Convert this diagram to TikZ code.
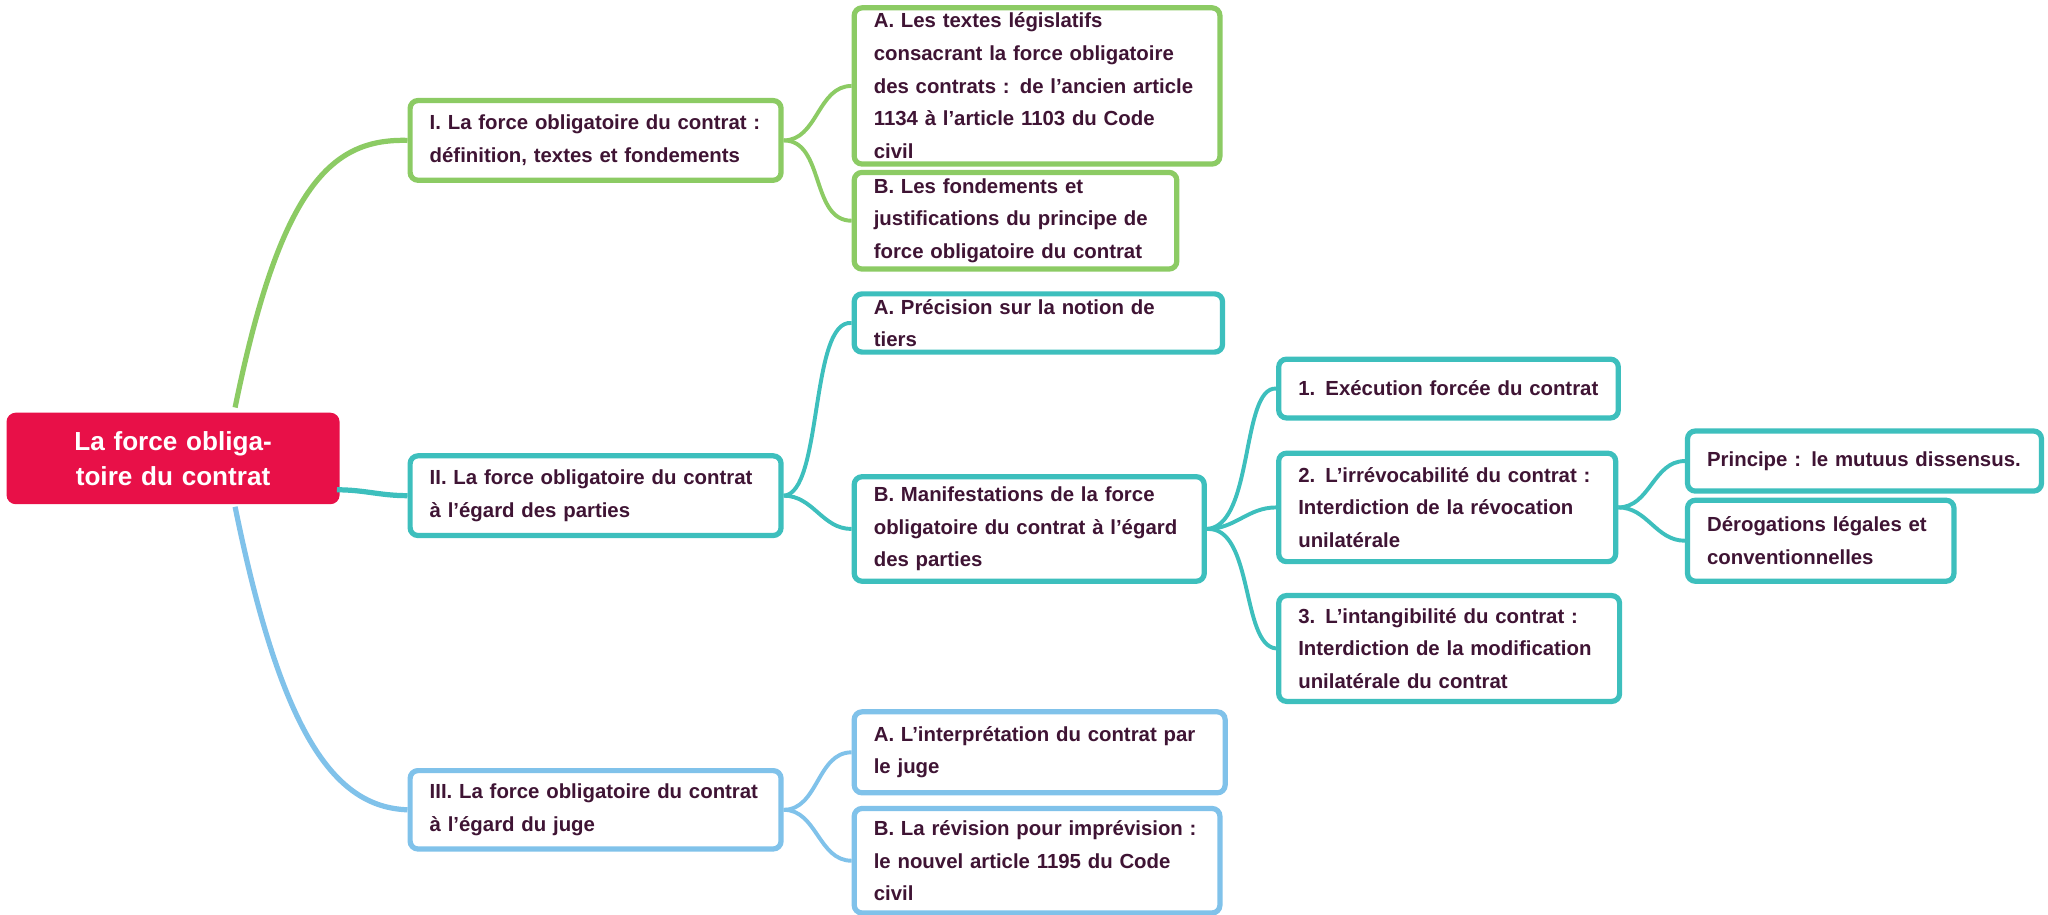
\documentclass[tikz,border=0pt]{standalone}
\usepackage{fontspec}
\setmainfont{Liberation Sans}
\definecolor{txt}{HTML}{3F1434}
\definecolor{gr}{HTML}{8CCB64}
\definecolor{te}{HTML}{3DBFBD}
\definecolor{bl}{HTML}{80C2EA}
\definecolor{rd}{HTML}{E81048}
\begin{document}
\begin{tikzpicture}[x=1pt,y=-1pt,
  bx/.style={draw=#1,line width=4pt,rounded corners=6pt,fill=white,anchor=north west,
    inner xsep=15pt,inner ysep=4pt,align=left,text=txt,
    font=\fontsize{15.6}{25}\selectfont\bfseries},
  cn/.style={draw=#1,line width=3pt},
  wd/.style={text width=#1-34pt},
  ht/.style={minimum height=#1}]
\useasboundingbox (0,0) rectangle (1568,700);
\node[draw=rd,fill=rd,line width=2pt,rounded corners=6pt,anchor=north west,minimum width=253,minimum height=68,
  text width=225pt,align=center,text=white,font=\fontsize{20}{27}\selectfont\bfseries] (root) at (5,316)
  {La force obligatoire du contrat};
\coordinate (rg) at (180,312);
\coordinate (rb) at (180,388);
\coordinate (rt) at (258,375);
\node[bx=gr,wd=288pt,ht=61pt] (I) at (312,75) {I. La force obligatoire du contrat :\\définition, textes et fondements};
\node[bx=gr,wd=284pt,ht=116pt] (IA) at (652,4) {A. Les textes législatifs\\consacrant la force obligatoire\\des contrats : de l’ancien article\\1134 à l’article 1103 du Code\\civil};
\node[bx=gr,wd=251pt,ht=74pt] (IB) at (652,130) {B. Les fondements et\\justifications du principe de\\force obligatoire du contrat};
\node[bx=te,wd=288pt,ht=61pt] (II) at (312,347) {II. La force obligatoire du contrat\\à l’égard des parties};
\node[bx=te,wd=286pt,ht=41pt] (IIA) at (652,223) {A. Précision sur la notion de tiers};
\node[bx=te,wd=272pt,ht=80pt] (IIB) at (652,363) {B. Manifestations de la force\\obligatoire du contrat à l’égard\\des parties};
\node[bx=te,wd=264pt,ht=45pt] (B1) at (977,273) {1. Exécution forcée du contrat};
\node[bx=te,wd=262pt,ht=83pt] (B2) at (977,345) {2. L’irrévocabilité du contrat :\\Interdiction de la révocation\\unilatérale};
\node[bx=te,wd=265pt,ht=81pt] (B3) at (977,454) {3. L’intangibilité du contrat :\\Interdiction de la modification\\unilatérale du contrat};
\node[bx=te,wd=275pt,ht=46pt] (P1) at (1290,328) {Principe : le mutuus dissensus.};
\node[bx=te,wd=208pt,ht=62pt] (P2) at (1290,381) {Dérogations légales et\\conventionnelles};
\node[bx=bl,wd=288pt,ht=60pt] (III) at (312,588) {III. La force obligatoire du contrat\\à l’égard du juge};
\node[bx=bl,wd=288pt,ht=62pt] (IIIA) at (652,543) {A. L’interprétation du contrat par\\le juge};
\node[bx=bl,wd=284pt,ht=80pt] (IIIB) at (652,617) {B. La révision pour imprévision :\\le nouvel article 1195 du Code\\civil};
\begin{scope}[on background layer/.style={}]
\end{scope}
\draw[cn=gr,line width=4pt] (rg) .. controls (215,140) and (255,106) .. (I.west);
\draw[cn=bl,line width=4pt] (rb) .. controls (215,560) and (255,618) .. (III.west);
\draw[cn=te,line width=4pt] (rt) to[out=0,in=180] (II.west);
\draw[cn=gr] (I.east) to[out=0,in=180] (IA.west);
\draw[cn=gr] (I.east) to[out=0,in=180] (IB.west);
\draw[cn=te] (II.east) .. controls (630,378) and (620,244) .. (IIA.west);
\draw[cn=te] (II.east) to[out=0,in=180] (IIB.west);
\draw[cn=te] (IIB.east) .. controls (960,403) and (950,296) .. (B1.west);
\draw[cn=te] (IIB.east) to[out=0,in=180] (B2.west);
\draw[cn=te] (IIB.east) .. controls (960,403) and (950,494) .. (B3.west);
\draw[cn=te] (B2.east) to[out=0,in=180] (P1.west);
\draw[cn=te] (B2.east) to[out=0,in=180] (P2.west);
\draw[cn=bl] (III.east) to[out=0,in=180] (IIIA.west);
\draw[cn=bl] (III.east) to[out=0,in=180] (IIIB.west);
\end{tikzpicture}
\end{document}
